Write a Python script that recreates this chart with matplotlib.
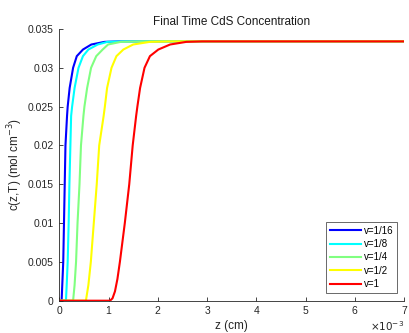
import matplotlib
matplotlib.use('Agg')
import matplotlib.pyplot as plt

plt.rcParams['font.family'] = ['Liberation Sans', 'DejaVu Sans']

# values, z in units of 1e-3 cm
c_std = [0, 0, 0.002, 0.005, 0.010, 0.015, 0.020, 0.0238, 0.025, 0.0274, 0.030, 0.0315, 0.03235, 0.0330, 0.03334, 0.0334, 0.0334]

z_16 = [0, 0.047, 0.06, 0.08, 0.095, 0.11, 0.125, 0.157, 0.17, 0.21, 0.28, 0.355, 0.48, 0.65, 0.92, 1.2, 7.0]
c_16 = c_std

z_8 = [0, 0.135, 0.15, 0.17, 0.19, 0.205, 0.225, 0.24, 0.26, 0.31, 0.39, 0.48, 0.59, 0.78, 0.98, 1.3, 7.0]
c_8 = c_std

z_4 = [0, 0.28, 0.31, 0.34, 0.37, 0.41, 0.44, 0.49, 0.51, 0.565, 0.645, 0.75, 0.88, 0.99, 1.25, 1.7, 7.0]
c_4 = c_std

z_2 = [0, 0.54, 0.59, 0.64, 0.70, 0.76, 0.81, 0.90, 0.925, 0.97, 1.06, 1.16, 1.30, 1.50, 1.84, 2.3, 7.0]
c_2 = c_std

z_1 = [0, 1.03, 1.08, 1.13, 1.18, 1.23, 1.33, 1.42, 1.49, 1.56, 1.585, 1.64, 1.73, 1.84, 2.01, 2.25, 2.58, 2.9, 7.0]
c_1 = [0, 0, 0.0003, 0.0012, 0.0028, 0.005, 0.010, 0.015, 0.020, 0.0238, 0.025, 0.0274, 0.030, 0.0315, 0.03235, 0.0330, 0.03334, 0.0334, 0.0334]

labels = ['v=1/16', 'v=1/8', 'v=1/4', 'v=1/2', 'v=1']
colors = ['#0000ff', '#00ffff', '#80ff80', '#ffff00', '#ff0000']
xticks = [0, 1, 2, 3, 4, 5, 6, 7]
yticks = [0, 0.005, 0.01, 0.015, 0.02, 0.025, 0.03, 0.035]

fig = plt.figure(figsize=(4.09, 3.33), dpi=100)
ax = fig.add_axes([0.145, 0.097, 0.843, 0.816])

curves = [(z_16, c_16), (z_8, c_8), (z_4, c_4), (z_2, c_2), (z_1, c_1)]
for (z, c), lab, col in zip(curves, labels, colors):
    ax.plot(z, c, color=col, lw=1.5, label=lab)

ax.set_xlim(0, 7)
ax.set_ylim(0, 0.035)
ax.set_xticks(xticks)
ax.set_xticklabels([str(t) for t in xticks])
ax.set_yticks(yticks)
ax.set_yticklabels(['0', '0.005', '0.01', '0.015', '0.02', '0.025', '0.03', '0.035'])
# axis multiplier, as matlab shows it under the right end
ax.text(1.0, -0.068, r'$\times10^{-3}$', transform=ax.transAxes, ha='right', va='top',
        fontsize=7.5, color='#262626')

for s in ['top', 'right']:
    ax.spines[s].set_visible(False)
for s in ['left', 'bottom']:
    ax.spines[s].set_color('#262626')
    ax.spines[s].set_linewidth(0.6)
ax.tick_params(direction='in', length=3, width=0.6, colors='#262626', labelsize=7.5, pad=4)

ax.set_title('Final Time CdS Concentration', fontsize=8.5, color='#1a1a1a', pad=3)
ax.set_xlabel('z (cm)', fontsize=8.5, color='#262626', labelpad=3)
ax.set_ylabel('c(z,T) (mol cm$^{-3}$)', fontsize=8.5, color='#262626', labelpad=2)

leg = ax.legend(loc='lower right', fontsize=7, frameon=True, fancybox=False,
                edgecolor='#262626', handlelength=3.2, handletextpad=0.3,
                borderpad=0.4, labelspacing=0.35, borderaxespad=0,
                bbox_to_anchor=(0.98, 0.028))
leg.get_frame().set_linewidth(0.6)

fig.savefig('out.png', dpi=100)
